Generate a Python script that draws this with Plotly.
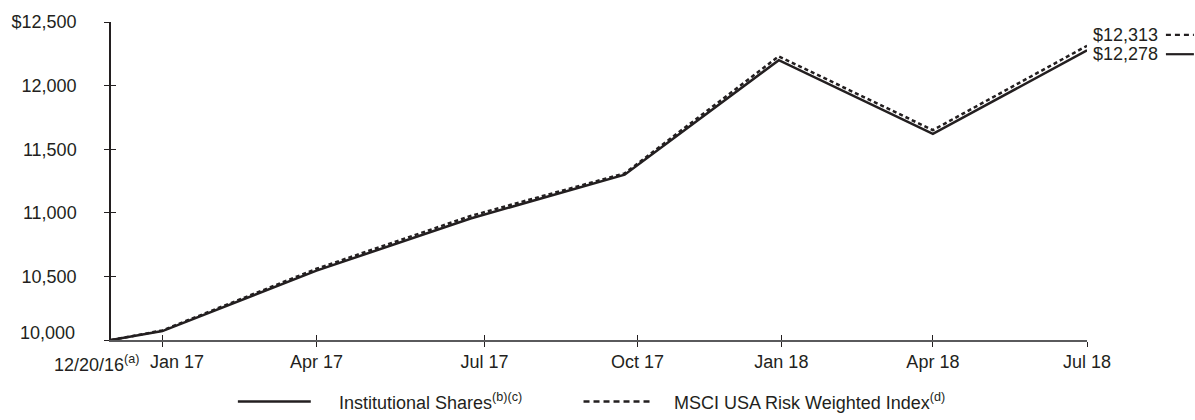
import plotly.graph_objects as go

# Growth of a $10,000 investment, month index from inception (12/20/16 = 0)
months = [0, 1, 4, 7, 10, 13, 16, 19]
institutional = [10000, 10070, 10545, 10955, 11300, 12200, 11620, 12278]
msci_index = [10000, 10075, 10560, 10975, 11310, 12230, 11650, 12313]

tick_pos = [1, 4, 7.27, 10.25, 13.05, 16, 19]
tick_text = ["", "Apr 17", "Jul 17", "Oct 17", "Jan 18", "Apr 18", "Jul 18"]
y_ticks = [10000, 10500, 11000, 11500, 12000, 12500]
y_text = ["", "10,500", "11,000", "11,500", "12,000", "$12,500"]

INK = "#231f20"
AXIS_GREY = "#5a5a5c"
FONT = "Arial, Liberation Sans, sans-serif"

fig = go.Figure()
fig.add_trace(go.Scatter(x=months, y=msci_index, mode="lines",
                         name="MSCI USA Risk Weighted Index",
                         line=dict(color=INK, width=2.5, dash="4px,3px")))
fig.add_trace(go.Scatter(x=months, y=institutional, mode="lines",
                         name="Institutional Shares",
                         line=dict(color=INK, width=2.5)))
# companion trace on overlay axes, used only to draw inward tick halves
fig.add_trace(go.Scatter(x=[months[0]], y=[institutional[0]], mode="lines",
                         xaxis="x2", yaxis="y2", hoverinfo="skip",
                         line=dict(color="rgba(0,0,0,0)")))

xr = [months[0], months[-1]]
yr = [y_ticks[0], y_ticks[-1]]

fig.update_layout(
    width=1195, height=420,
    margin=dict(l=110, r=108, t=20, b=80),
    paper_bgcolor="white", plot_bgcolor="white",
    showlegend=False,
    font=dict(family=FONT, size=18, color=INK),
    xaxis=dict(range=xr, tickvals=tick_pos, ticktext=tick_text,
               showgrid=False, zeroline=False, showline=True,
               linecolor=AXIS_GREY, linewidth=1.5,
               ticks="outside", ticklen=5, tickcolor=INK, tickwidth=1.2,
               tickfont=dict(size=18, color=INK)),
    yaxis=dict(range=yr, tickvals=y_ticks, ticktext=y_text,
               showgrid=False, zeroline=False, showline=True,
               linecolor=INK, linewidth=1.5,
               ticks="outside", ticklen=5, tickcolor=INK, tickwidth=1.2,
               ticklabelstandoff=24,
               tickfont=dict(size=18, color=INK)),
    xaxis2=dict(range=xr, overlaying="x", anchor="y2", side="bottom",
                tickvals=[0] + tick_pos, showticklabels=False,
                showgrid=False, zeroline=False, showline=False,
                ticks="inside", ticklen=5, tickcolor=INK, tickwidth=1.2),
    yaxis2=dict(range=yr, overlaying="y", anchor="x2", side="left",
                tickvals=y_ticks[1:], showticklabels=False,
                showgrid=False, zeroline=False, showline=False,
                ticks="inside", ticklen=5, tickcolor=INK, tickwidth=1.2),
)

# bottom y label sits a little above the x axis line
fig.add_annotation(x=0, y=y_ticks[0], xref="paper", yref="y",
                   text="10,000", showarrow=False, xanchor="right",
                   yanchor="middle", xshift=-34, yshift=7,
                   font=dict(size=18, color=INK))

# first two x labels are nudged apart so they do not collide
fig.add_annotation(x=months[0], y=yr[0], xref="x", yref="y",
                   text="12/20/16<sup>(a)</sup>", showarrow=False,
                   xanchor="right", yanchor="top", xshift=30, yshift=-10,
                   font=dict(size=18, color=INK))
fig.add_annotation(x=tick_pos[0], y=yr[0], xref="x", yref="y",
                   text="Jan 17", showarrow=False,
                   xanchor="left", yanchor="top", xshift=-14, yshift=-10,
                   font=dict(size=18, color=INK))

# ending values with their line keys
ends = [(msci_index[-1], -11, "dash"), (institutional[-1], 4, "solid")]
for val, shift, dash in ends:
    fig.add_annotation(x=months[-1], y=val, xref="x", yref="y",
                       text=f"${val:,.0f}", showarrow=False,
                       xanchor="left", yanchor="middle", xshift=4,
                       yshift=-shift, font=dict(size=18, color=INK))
    ypix = 340 - (val - yr[0]) * 320 / (yr[1] - yr[0]) + shift
    yp = (340 - ypix) / 320
    fig.add_shape(type="line", xref="paper", yref="paper",
                  x0=(1166 - 110) / 977, x1=(1194 - 110) / 977, y0=yp, y1=yp,
                  line=dict(color=INK, width=2.2,
                            dash="5px,4px" if dash == "dash" else "solid"))

# legend
legend_y = (340 - 402) / 320
items = [
    (237, 310, 336, "Institutional Shares<sup>(b)(c)</sup>", "solid"),
    (583, 652, 672, "MSCI USA Risk Weighted Index<sup>(d)</sup>", "6px,4px"),
]
for x0, x1, xt, label, dash in items:
    fig.add_shape(type="line", xref="paper", yref="paper",
                  x0=(x0 - 110) / 977, x1=(x1 - 110) / 977,
                  y0=legend_y, y1=legend_y,
                  line=dict(color=INK, width=2.5, dash=dash))
    fig.add_annotation(x=(xt - 110) / 977, y=legend_y, xref="paper", yref="paper",
                       text=label, showarrow=False, xanchor="left",
                       yanchor="middle", font=dict(size=18, color=INK))

fig.write_html("out.html")
